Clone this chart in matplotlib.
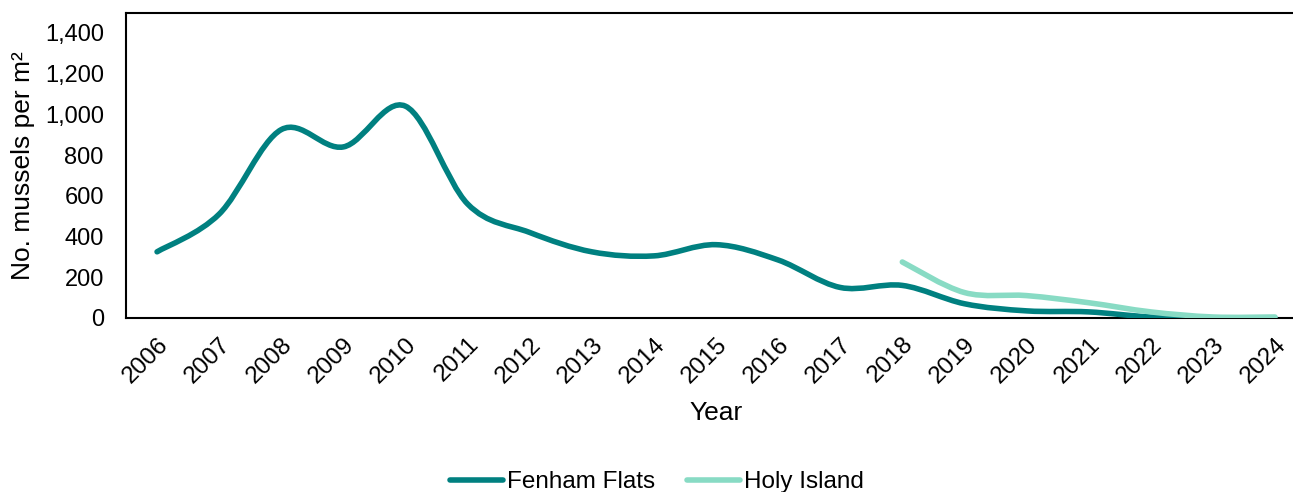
import matplotlib
import matplotlib.pyplot as plt
from matplotlib.path import Path
from matplotlib.patches import PathPatch
from matplotlib.lines import Line2D

matplotlib.use('Agg')

years = [str(y) for y in range(2006, 2025)]
fenham_flats = [325, 510, 925, 840, 1040, 560, 420, 325, 305, 360, 285, 150, 160, 70, 35, 30, 5, 0, 0]
holy_island_start = 12  # index of 2018
holy_island = [275, 125, 110, 75, 30, 5, 5]

FENHAM_COLOR = '#008080'
HOLY_COLOR = '#88DBC4'


def smooth_path(xs, ys):
    # Catmull-Rom style bezier curve, like a spreadsheet "smoothed line"
    verts = [(xs[0], ys[0])]
    codes = [Path.MOVETO]
    n = len(xs)
    for i in range(n - 1):
        x0, y0 = (xs[i - 1], ys[i - 1]) if i > 0 else (xs[i], ys[i])
        x1, y1 = xs[i], ys[i]
        x2, y2 = xs[i + 1], ys[i + 1]
        x3, y3 = (xs[i + 2], ys[i + 2]) if i + 2 < n else (x2, y2)
        c1 = (x1 + (x2 - x0) / 6, y1 + (y2 - y0) / 6)
        c2 = (x2 - (x3 - x1) / 6, y2 - (y3 - y1) / 6)
        verts += [c1, c2, (x2, y2)]
        codes += [Path.CURVE4] * 3
    return Path(verts, codes)


def plot():
    plt.rcParams['font.family'] = ['Liberation Sans', 'DejaVu Sans']

    fig = plt.figure(figsize=(12.93, 4.92), dpi=100)
    ax = fig.add_axes([126 / 1293, 1 - 318 / 492, 1180 / 1293, 305.5 / 492])

    fx = list(range(len(fenham_flats)))
    hx = list(range(holy_island_start, holy_island_start + len(holy_island)))

    ax.add_patch(PathPatch(smooth_path(fx, fenham_flats), facecolor='none',
                           edgecolor=FENHAM_COLOR, lw=4, capstyle='round', zorder=3))
    ax.add_patch(PathPatch(smooth_path(hx, holy_island), facecolor='none',
                           edgecolor=HOLY_COLOR, lw=4, capstyle='round', zorder=4))

    ax.set_xlim(-0.5, len(years) - 0.5)
    ax.set_ylim(0, 1500)
    ax.set_xticks(fx)
    ax.set_xticklabels(years, rotation=45, ha='right', rotation_mode='anchor')
    ax.set_yticks(range(0, 1401, 200))
    ax.set_yticklabels([f'{v:,}' for v in range(0, 1401, 200)])
    ax.tick_params(axis='both', length=0, labelsize=17.5, colors='black')
    ax.tick_params(axis='x', pad=11)
    ax.tick_params(axis='y', labelsize=17, pad=16)
    for s in ax.spines.values():
        s.set_linewidth(1.5)
        s.set_color('black')

    ax.set_xlabel('Year', fontsize=19, labelpad=10)
    ax.set_ylabel('No. mussels per m²', fontsize=19, labelpad=7)

    handles = [Line2D([], [], color=FENHAM_COLOR, lw=4, solid_capstyle='round'),
               Line2D([], [], color=HOLY_COLOR, lw=4, solid_capstyle='round')]
    fig.legend(handles, ['Fenham Flats', 'Holy Island'], loc='center',
               bbox_to_anchor=(0.508, 0.02), ncol=2, frameon=False, fontsize=17.5,
               handlelength=2.2, handletextpad=0.15, columnspacing=1.3)

    fig.savefig('out.png', dpi=100)


if __name__ == '__main__':
    plot()
